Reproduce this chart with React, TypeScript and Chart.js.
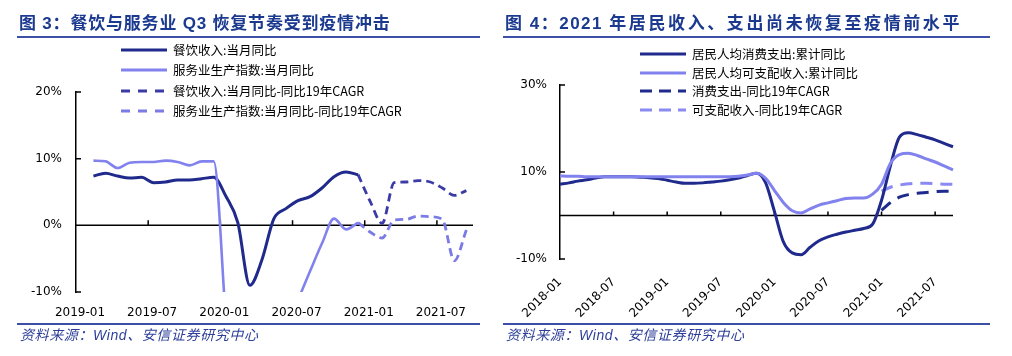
import React, { useEffect, useRef } from 'react';
import { Chart, registerables } from 'chart.js';

Chart.register(...registerables);

// ---------- Left chart (图 3) data ----------
const LEFT_MONTHS = [
  '2019-01', '2019-02', '2019-03', '2019-04', '2019-05', '2019-06', '2019-07', '2019-08', '2019-09', '2019-10', '2019-11', '2019-12',
  '2020-01', '2020-02', '2020-03', '2020-04', '2020-05', '2020-06', '2020-07', '2020-08', '2020-09', '2020-10', '2020-11', '2020-12',
  '2021-01', '2021-02', '2021-03', '2021-04', '2021-05', '2021-06', '2021-07', '2021-08', '2021-09',
];
const LEFT_SERIES = ['餐饮收入:当月同比', '服务业生产指数:当月同比', '餐饮收入:当月同比-同比19年CAGR', '服务业生产指数:当月同比-同比19年CAGR'];
const cateringYoy = [
  null, 7.4, 7.8, 7.4, 7.1, 7.2, 6.4, 6.5, 6.8, 6.8, 7.0, 7.2,
  4.4, 0.4, -9.0, -5.2, 1.0, 2.5, 3.7, 4.3, 5.6, 7.3, 8.0, 7.6,
  null, null, null, null, null, null, null, null, null,
];
const servicesYoy = [
  null, 9.7, 9.6, 8.6, 9.4, 9.5, 9.5, 9.7, 9.5, 9.0, 9.6, 9.6,
  -14.0, null, null, null, null, null, -11.2, -6.9, -2.7, 1.0, -0.6, 0.4,
  null, null, null, null, null, null, null, null, null,
];
const cateringVs2019 = [
  null, null, null, null, null, null, null, null, null, null, null, null,
  null, null, null, null, null, null, null, null, null, null, null, 7.6,
  3.6, 0.3, 6.4, 6.5, 6.7, 6.5, 5.6, 4.5, 5.2,
];
const servicesVs2019 = [
  null, null, null, null, null, null, null, null, null, null, null, null,
  null, null, null, null, null, null, null, null, null, null, null, 0.4,
  -1.0, -1.9, 0.8, 0.9, 1.4, 1.3, 0.9, -5.3, -0.7,
];
const LEFT_Y_MIN = -10;
const LEFT_Y_MAX = 20;
const LEFT_Y_STEP = 10;

// ---------- Right chart (图 4) data ----------
const RIGHT_MONTHS = [
  '2018-01', '2018-02', '2018-03', '2018-04', '2018-05', '2018-06', '2018-07', '2018-08', '2018-09', '2018-10', '2018-11', '2018-12',
  '2019-01', '2019-02', '2019-03', '2019-04', '2019-05', '2019-06', '2019-07', '2019-08', '2019-09', '2019-10', '2019-11', '2019-12',
  '2020-01', '2020-02', '2020-03', '2020-04', '2020-05', '2020-06', '2020-07', '2020-08', '2020-09', '2020-10', '2020-11', '2020-12',
  '2021-01', '2021-02', '2021-03', '2021-04', '2021-05', '2021-06', '2021-07', '2021-08', '2021-09',
];
const RIGHT_SERIES = ['居民人均消费支出:累计同比', '居民人均可支配收入:累计同比', '消费支出-同比19年CAGR', '可支配收入-同比19年CAGR'];
const consumptionYoy = [
  7.2, 7.5, 7.9, 8.2, 8.6, 8.9, 8.9, 8.9, 8.9, 8.8, 8.7, 8.5,
  8.1, 7.7, 7.4, 7.4, 7.5, 7.7, 7.9, 8.2, 8.6, 9.2, 9.7, 7.6,
  1.0, -6.0, -8.6, -9.0, -7.3, -5.8, -4.9, -4.3, -3.8, -3.4, -3.0, -2.0,
  3.5, 11.5, 18.0, 19.0, 18.6, 18.0, 17.4, 16.6, 15.8,
];
const incomeYoy = [
  9.1, 9.0, 9.0, 8.9, 8.9, 8.9, 8.9, 8.9, 8.9, 8.9, 8.9, 8.9,
  8.9, 8.9, 8.9, 8.9, 8.9, 8.9, 8.9, 8.9, 9.0, 9.3, 9.7, 8.6,
  5.8, 3.0, 1.1, 0.6, 1.5, 2.4, 2.9, 3.4, 3.9, 4.0, 4.0, 4.9,
  7.2, 12.0, 14.0, 14.3, 13.8, 13.0, 12.3, 11.4, 10.5,
];
const consumptionVs2019 = [
  null, null, null, null, null, null, null, null, null, null, null, null,
  null, null, null, null, null, null, null, null, null, null, null, null,
  null, null, null, null, null, null, null, null, null, null, null, null,
  1.2, 3.0, 4.2, 4.8, 5.1, 5.3, 5.5, 5.6, 5.6,
];
const incomeVs2019 = [
  null, null, null, null, null, null, null, null, null, null, null, null,
  null, null, null, null, null, null, null, null, null, null, null, null,
  null, null, null, null, null, null, null, null, null, null, null, null,
  5.6, 6.5, 7.0, 7.3, 7.4, 7.4, 7.3, 7.2, 7.2,
];
const RIGHT_Y_MIN = -10;
const RIGHT_Y_MAX = 30;
const RIGHT_Y_STEP = 20;

// ---------- styles ----------
const NAVY = '#1f2a8c';
const LAVENDER = '#8282ee';
const L_DASH_DARK = '#3b3ba6';
const L_DASH_LIGHT = '#7b7be6';
const R_DASH_LIGHT = '#8a8af2';
const TITLE_COLOR = '#1b3a8f';
const RULE_COLOR = '#3c50a8';
const SOURCE_COLOR = '#2d3f99';
const TICK_FONT = { family: '"DejaVu Sans", sans-serif', size: 12 };
const MID_MONTH = 0.45; // monthly values are dated mid-month on the left date axis
const LABEL_EVERY = 6;

const toPoints = (arr: (number | null)[]) => arr.map((v, i) => ({ x: i + MID_MONTH, y: v }));

const axisDecor = (xTickLen: number) => ({
  id: 'axisDecor',
  beforeDatasetsDraw(chart: any) {
    const { ctx, chartArea, scales } = chart;
    const xs = scales.x;
    const ys = scales.y;
    const zeroY = ys.getPixelForValue(0);
    ctx.save();
    ctx.strokeStyle = '#000';
    ctx.lineWidth = 1.5;
    ctx.beginPath();
    ctx.moveTo(chartArea.left, zeroY);
    ctx.lineTo(chartArea.right, zeroY);
    xs.ticks.forEach((t: any, i: number) => {
      if (!t.label) return;
      const px = xs.getPixelForTick(i);
      if (px <= chartArea.left + 2) return;
      ctx.moveTo(px, zeroY);
      ctx.lineTo(px, zeroY - xTickLen);
    });
    ys.ticks.forEach((t: any) => {
      const py = ys.getPixelForValue(t.value);
      ctx.moveTo(chartArea.left, py);
      ctx.lineTo(chartArea.left + 5, py);
    });
    ctx.stroke();
    ctx.restore();
  },
});

const commonOptions = {
  animation: false,
  responsive: false,
  events: [],
  elements: {
    point: { radius: 0, hoverRadius: 0 },
    line: { cubicInterpolationMode: 'monotone', fill: false, borderCapStyle: 'butt' },
  },
  plugins: { legend: { display: false }, tooltip: { enabled: false } },
};

const buildLeft = (): any => ({
  type: 'line',
  data: {
    datasets: [
      { label: LEFT_SERIES[0], data: toPoints(cateringYoy), borderColor: NAVY, borderWidth: 3, order: 1, clip: 0 },
      { label: LEFT_SERIES[1], data: toPoints(servicesYoy), borderColor: LAVENDER, borderWidth: 2.6, order: 0, clip: 0 },
      { label: LEFT_SERIES[2], data: toPoints(cateringVs2019), borderColor: L_DASH_DARK, borderWidth: 2.8, borderDash: [8, 5], order: 2, clip: 0 },
      { label: LEFT_SERIES[3], data: toPoints(servicesVs2019), borderColor: L_DASH_LIGHT, borderWidth: 2.8, borderDash: [8, 5], order: 3, clip: 0 },
    ],
  },
  options: {
    ...commonOptions,
    layout: { padding: { top: 92, right: 27, bottom: 34, left: 0 } },
    scales: {
      x: {
        type: 'linear',
        min: 0,
        max: LEFT_MONTHS.length,
        grid: { display: false, drawTicks: false },
        border: { display: false },
        ticks: {
          stepSize: LABEL_EVERY,
          includeBounds: false,
          autoSkip: false,
          maxRotation: 0,
          minRotation: 0,
          padding: 14,
          labelOffset: 4,
          color: '#000',
          font: TICK_FONT,
          callback: (v: number) => (LEFT_MONTHS[v] !== undefined ? LEFT_MONTHS[v] : ''),
        },
        afterFit: (s: any) => { s.height = 30; },
      },
      y: {
        min: LEFT_Y_MIN,
        max: LEFT_Y_MAX,
        grid: { display: false, drawTicks: false },
        border: { display: true, color: '#000', width: 1.5 },
        ticks: { stepSize: LEFT_Y_STEP, padding: 14, color: '#000', font: TICK_FONT, callback: (v: number) => v + '%' },
        afterFit: (s: any) => { s.width = 76; },
      },
    },
  },
  plugins: [axisDecor(5)],
});

const buildRight = (): any => ({
  type: 'line',
  data: {
    labels: RIGHT_MONTHS,
    datasets: [
      { label: RIGHT_SERIES[0], data: consumptionYoy, borderColor: NAVY, borderWidth: 3, order: 1 },
      { label: RIGHT_SERIES[1], data: incomeYoy, borderColor: LAVENDER, borderWidth: 3, order: 0 },
      { label: RIGHT_SERIES[2], data: consumptionVs2019, borderColor: NAVY, borderWidth: 3, borderDash: [12, 8], order: 2 },
      { label: RIGHT_SERIES[3], data: incomeVs2019, borderColor: R_DASH_LIGHT, borderWidth: 3, borderDash: [12, 8], order: 3 },
    ],
  },
  options: {
    ...commonOptions,
    layout: { padding: { top: 85, right: 59, bottom: 27, left: 0 } },
    scales: {
      x: {
        type: 'category',
        offset: false,
        grid: { display: false, drawTicks: false },
        border: { display: false },
        ticks: {
          autoSkip: false,
          minRotation: 45,
          maxRotation: 45,
          padding: 16,
          color: '#000',
          font: TICK_FONT,
          callback: (_v: any, i: number) => (i % LABEL_EVERY === 0 ? RIGHT_MONTHS[i] : ''),
        },
        afterFit: (s: any) => { s.height = 70; },
      },
      y: {
        min: RIGHT_Y_MIN,
        max: RIGHT_Y_MAX,
        grid: { display: false, drawTicks: false },
        border: { display: true, color: '#000', width: 1.5 },
        ticks: { stepSize: RIGHT_Y_STEP, padding: 13, color: '#000', font: TICK_FONT, callback: (v: number) => v + '%' },
        afterFit: (s: any) => { s.width = 60; },
      },
    },
  },
  plugins: [axisDecor(4)],
});

function ChartCanvas({ left, width, height, build }: { left: number; width: number; height: number; build: () => any }) {
  const ref = useRef<HTMLCanvasElement>(null);
  useEffect(() => {
    const chart = new Chart(ref.current as HTMLCanvasElement, build());
    return () => chart.destroy();
  }, []);
  return (
    <canvas
      ref={ref}
      width={width}
      height={height}
      style={{ position: 'absolute', left, top: 0, width, height, display: 'block' }}
    />
  );
}

type LegendItem = { label: string; color: string; dash?: string; width: number };

function Legend({ items, left, top, gap }: { items: LegendItem[]; left: number; top: number; gap: number }) {
  return (
    <>
      {items.map((it, i) => (
        <div
          key={i}
          style={{
            position: 'absolute',
            left,
            top: top + i * gap,
            height: 20,
            display: 'flex',
            alignItems: 'center',
            whiteSpace: 'nowrap',
            fontFamily: '"Noto Sans CJK SC", sans-serif',
            fontSize: 12.5,
            lineHeight: '20px',
            color: '#000',
          }}
        >
          <svg width={46} height={6} style={{ display: 'block', marginRight: 6 }}>
            <line x1={0} y1={3} x2={46} y2={3} stroke={it.color} strokeWidth={it.width} strokeDasharray={it.dash} />
          </svg>
          <span>{it.label}</span>
        </div>
      ))}
    </>
  );
}

function Rule({ left, right, top }: { left: number; right: number; top: number }) {
  return <div style={{ position: 'absolute', left, top, width: right - left, height: 2, background: RULE_COLOR }} />;
}

const titleStyle: any = {
  position: 'absolute',
  top: 14,
  fontFamily: '"Liberation Sans", "Noto Sans CJK SC", sans-serif',
  fontWeight: 700,
  fontSize: 17,
  lineHeight: '20px',
  color: TITLE_COLOR,
  whiteSpace: 'nowrap',
};

const sourceStyle: any = {
  position: 'absolute',
  top: 326,
  fontFamily: '"Liberation Sans", "Noto Sans CJK SC", sans-serif',
  fontStyle: 'italic',
  fontSize: 14,
  lineHeight: '18px',
  letterSpacing: '0.6px',
  color: SOURCE_COLOR,
  whiteSpace: 'nowrap',
};

export default function App() {
  const leftItems: LegendItem[] = [
    { label: LEFT_SERIES[0], color: NAVY, width: 3 },
    { label: LEFT_SERIES[1], color: LAVENDER, width: 3 },
    { label: LEFT_SERIES[2], color: L_DASH_DARK, width: 3, dash: '9 8' },
    { label: LEFT_SERIES[3], color: L_DASH_LIGHT, width: 3, dash: '9 8' },
  ];
  const rightItems: LegendItem[] = [
    { label: RIGHT_SERIES[0], color: NAVY, width: 3 },
    { label: RIGHT_SERIES[1], color: LAVENDER, width: 3 },
    { label: RIGHT_SERIES[2], color: NAVY, width: 3, dash: '12 7' },
    { label: RIGHT_SERIES[3], color: R_DASH_LIGHT, width: 3, dash: '12 7' },
  ];
  return (
    <div style={{ position: 'absolute', left: 0, top: 0, width: 1012, height: 356, background: '#fff', overflow: 'hidden' }}>
      <ChartCanvas left={0} width={500} height={356} build={buildLeft} />
      <ChartCanvas left={500} width={512} height={356} build={buildRight} />

      <div style={{ ...titleStyle, left: 19, letterSpacing: '0.8px' }}>图 3：餐饮与服务业 Q3 恢复节奏受到疫情冲击</div>
      <div style={{ ...titleStyle, left: 505 }}>
        <span style={{ letterSpacing: '1.5px' }}>图 4：2021 </span>
        <span style={{ letterSpacing: '2.6px' }}>年居民收入、支出尚未恢复至疫情前水平</span>
      </div>
      <Rule left={17} right={480} top={36} />
      <Rule left={503} right={990} top={36} />

      <Legend items={leftItems} left={121} top={39.5} gap={20.5} />
      <Legend items={rightItems} left={640} top={44} gap={18.7} />

      <Rule left={17} right={480} top={323} />
      <Rule left={503} right={990} top={323} />
      <div style={{ ...sourceStyle, left: 20 }}>资料来源：Wind、安信证券研究中心</div>
      <div style={{ ...sourceStyle, left: 506 }}>资料来源：Wind、安信证券研究中心</div>
    </div>
  );
}
